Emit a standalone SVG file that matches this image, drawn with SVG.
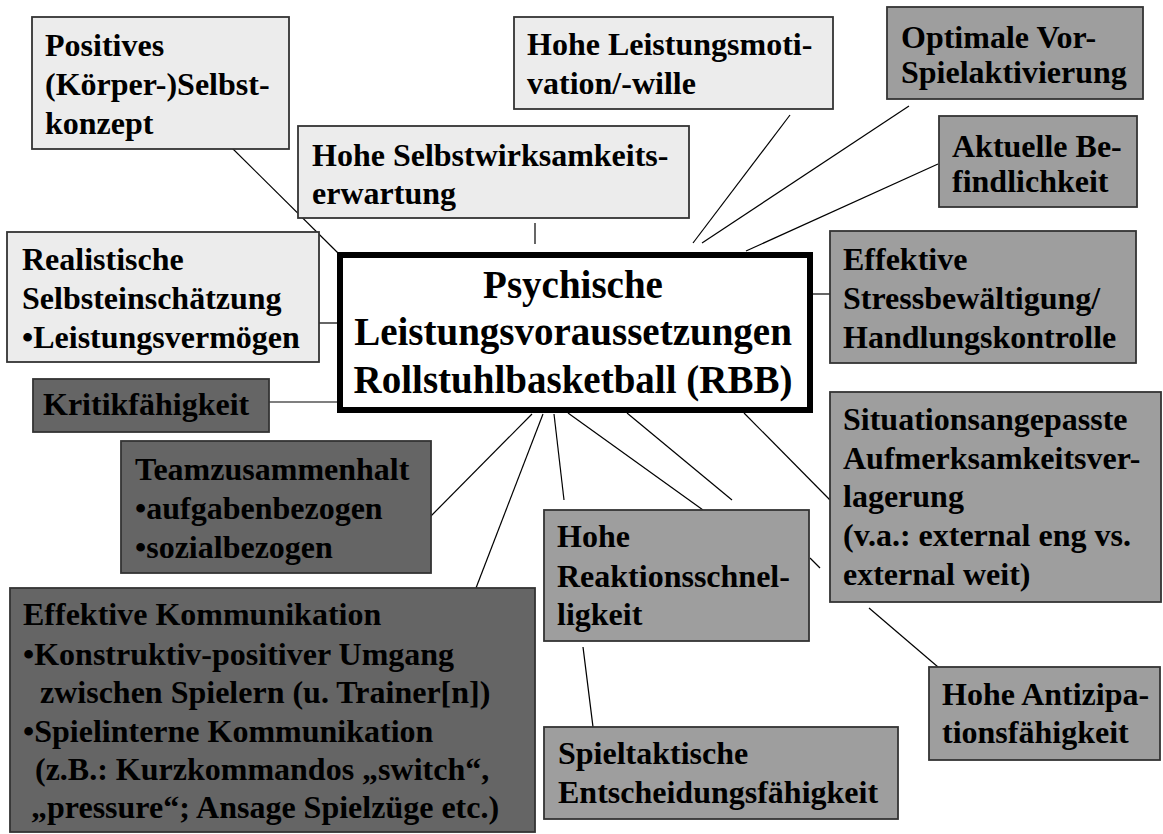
<svg xmlns="http://www.w3.org/2000/svg" width="1163" height="834" viewBox="0 0 1163 834">
<style>
text{font-family:"Liberation Serif","Times New Roman",serif;font-weight:bold;fill:#000;font-size:32px}
.light{fill:#ececec;stroke:#333333;stroke-width:1.8}
.mid{fill:#9e9e9e;stroke:#333333;stroke-width:1.8}
.dark{fill:#656565;stroke:#333333;stroke-width:1.8}
.center{fill:#ffffff;stroke:#000;stroke-width:6}
.conn line{stroke:#000;stroke-width:1.2}
.big{font-size:39px}
</style>
<rect width="1163" height="834" fill="#ffffff"/>
<g id="connectors" class="conn">
<line x1="229" y1="145" x2="338" y2="253"/>
<line x1="535" y1="223" x2="535" y2="244"/>
<line x1="790" y1="115" x2="693" y2="243"/>
<line x1="909" y1="106" x2="702" y2="243"/>
<line x1="938" y1="164" x2="746" y2="251"/>
<line x1="812" y1="294" x2="830" y2="294"/>
<line x1="319" y1="323" x2="337" y2="323"/>
<line x1="269" y1="402" x2="337" y2="402"/>
<line x1="427" y1="520" x2="532" y2="414"/>
<line x1="476" y1="588" x2="543" y2="414"/>
<line x1="554" y1="414" x2="564" y2="500"/>
<line x1="568" y1="413" x2="703" y2="510"/>
<line x1="627" y1="413" x2="732" y2="500"/>
<line x1="810" y1="558" x2="820" y2="568"/>
<line x1="869" y1="608" x2="938" y2="667"/>
<line x1="744" y1="413" x2="830" y2="500"/>
<line x1="583" y1="647" x2="593" y2="727"/>
</g>
<g id="n-positives"><rect class="light" x="32" y="17" width="257" height="132"/><text x="45" y="56">Positives</text><text x="45" y="95">(Körper-)Selbst-</text><text x="45" y="134">konzept</text></g>
<g id="n-motivation"><rect class="light" x="514" y="17" width="319" height="92"/><text x="527" y="55">Hohe Leistungsmoti-</text><text x="527" y="94">vation/-wille</text></g>
<g id="n-selbstwirksamkeit"><rect class="light" x="298" y="126" width="391" height="92"/><text x="312" y="166">Hohe Selbstwirksamkeits-</text><text x="312" y="204">erwartung</text></g>
<g id="n-aktivierung"><rect class="mid" x="887" y="7" width="256" height="92"/><text x="901" y="48">Optimale Vor-</text><text x="901" y="83">Spielaktivierung</text></g>
<g id="n-befindlichkeit"><rect class="mid" x="939" y="116" width="198" height="91"/><text x="952" y="157">Aktuelle Be-</text><text x="952" y="192">findlichkeit</text></g>
<g id="n-selbsteinschaetzung"><rect class="light" x="7" y="232" width="312" height="130"/><text x="22" y="270">Realistische</text><text x="22" y="309">Selbsteinschätzung</text><text x="22" y="348">•Leistungsvermögen</text></g>
<g id="n-stress"><rect class="mid" x="830" y="231" width="306" height="132"/><text x="843" y="270">Effektive</text><text x="843" y="309">Stressbewältigung/</text><text x="843" y="348">Handlungskontrolle</text></g>
<g id="n-center"><rect class="center" x="340" y="255" width="470" height="155"/><text class="big" x="573" y="298" text-anchor="middle">Psychische</text><text class="big" x="573" y="345" text-anchor="middle">Leistungsvoraussetzungen</text><text class="big" x="573" y="393" text-anchor="middle">Rollstuhlbasketball (RBB)</text></g>
<g id="n-kritik"><rect class="dark" x="33" y="379" width="236" height="53"/><text x="43" y="415">Kritikfähigkeit</text></g>
<g id="n-team"><rect class="dark" x="121" y="441" width="310" height="132"/><text x="135" y="480">Teamzusammenhalt</text><text x="135" y="519">•aufgabenbezogen</text><text x="135" y="558">•sozialbezogen</text></g>
<g id="n-aufmerksamkeit"><rect class="mid" x="830" y="392" width="331" height="210"/><text x="843" y="430">Situationsangepasste</text><text x="843" y="469">Aufmerksamkeitsver-</text><text x="843" y="507">lagerung</text><text x="843" y="546">(v.a.: external eng vs.</text><text x="843" y="585">external weit)</text></g>
<g id="n-reaktion"><rect class="mid" x="544" y="510" width="265" height="131"/><text x="557" y="547">Hohe</text><text x="557" y="587">Reaktionsschnel-</text><text x="557" y="625">ligkeit</text></g>
<g id="n-kommunikation"><rect class="dark" x="10" y="588" width="525" height="244"/><text x="23" y="625">Effektive Kommunikation</text><text x="23" y="665">•Konstruktiv-positiver Umgang</text><text x="40" y="703">zwischen Spielern (u. Trainer[n])</text><text x="23" y="742">•Spielinterne Kommunikation</text><text x="35" y="780">(z.B.: Kurzkommandos „switch“,</text><text x="31" y="818">„pressure“; Ansage Spielzüge etc.)</text></g>
<g id="n-antizipation"><rect class="mid" x="929" y="667" width="231" height="93"/><text x="942" y="705">Hohe Antizipa-</text><text x="942" y="743">tionsfähigkeit</text></g>
<g id="n-spieltaktik"><rect class="mid" x="544" y="727" width="354" height="92"/><text x="558" y="764">Spieltaktische</text><text x="558" y="803">Entscheidungsfähigkeit</text></g>
</svg>
